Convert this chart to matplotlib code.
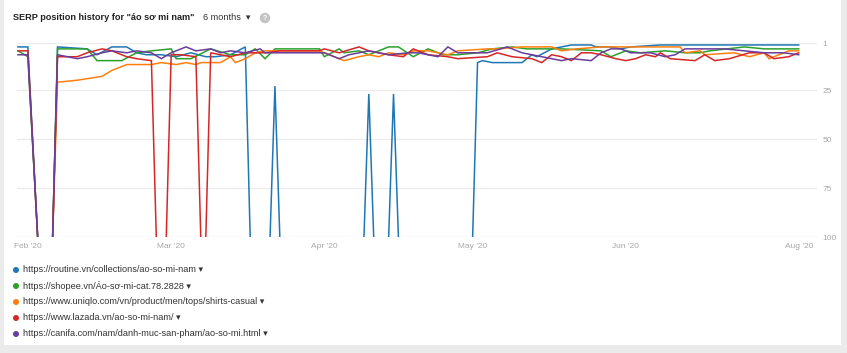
import matplotlib
matplotlib.use("Agg")
import matplotlib.pyplot as plt
from matplotlib.patches import Ellipse
import numpy as np
import pandas as pd

plt.rcParams["font.family"] = ["Liberation Sans", "DejaVu Sans"]

NR = 101  # ngoai top 100 (khong xep hang)
base = pd.Timestamp("2020-02-01")

# du lieu: ngay (tinh tu 01/02/2020) va vi tri SERP
blue_days = [-2, 0, 2, 5, 6, 12, 14, 17, 20, 22, 24, 27, 30, 33, 36, 38, 41, 44, 45, 49, 50, 51,
             68, 69, 70, 73, 74, 75, 90, 91, 92, 94, 100, 102, 103, 106, 110, 114, 115, 118, 120,
             122, 128, 133, 145, 156]
blue_pos = [3, 3, NR, NR, 3, 4, 7, 3, 3, 6, 7, 7, 8, 6, 8, 8, 7, 3, NR, NR, 23, NR,
            NR, 27, NR, NR, 27, NR, NR, 11, 10, 11, 11, 7, 8, 4, 2, 2, 3, 3, 4,
            3, 2, 2, 2, 2]

green_days = [-2, 0, 2, 5, 6, 12, 14, 19, 22, 25, 29, 30, 33, 37, 41, 44, 46, 48, 50, 59, 60, 63,
              64, 67, 69, 73, 75, 78, 81, 84, 87, 91, 94, 98, 101, 104, 108, 116, 118, 121, 124,
              129, 133, 136, 138, 145, 149, 156]
green_pos = [5, 8, NR, NR, 4, 4, 10, 10, 6, 5, 4, 9, 9, 4, 7, 7, 4, 9, 4, 4, 8, 4,
             6, 5, 7, 3, 3, 8, 4, 7, 7, 6, 4, 3, 4, 4, 4, 5, 8, 5, 6,
             5, 6, 6, 5, 3, 4, 4]

orange_days = [5, 6, 10, 15, 17, 20, 22, 25, 27, 30, 32, 34, 35, 37, 39, 41, 42, 44, 46, 48, 51,
               59, 60, 64, 67, 69, 71, 73, 76, 78, 81, 85, 87, 93, 95, 100, 104, 106, 108, 111,
               116, 132, 133, 136, 137, 143, 146, 149, 150, 154, 156]
orange_pos = [NR, 21, 20, 18, 15, 12, 12, 12, 11, 12, 11, 12, 11, 11, 11, 8, 11, 9, 6, 5, 5,
              5, 6, 10, 8, 7, 8, 6, 7, 5, 5, 7, 5, 4, 4, 3, 3, 3, 5, 4,
              3, 3, 6, 5, 7, 6, 8, 6, 9, 5, 5]

red_days = [-2, 0, 2, 5, 6, 10, 12, 15, 17, 20, 22, 25, 26, 28, 29, 31, 34, 35, 36, 37, 41, 44,
            48, 51, 59, 60, 63, 67, 69, 73, 76, 78, 81, 85, 87, 93, 95, 98, 102, 104, 106, 108,
            110, 112, 114, 116, 119, 121, 123, 125, 127, 128, 130, 135, 137, 139, 142, 146, 149,
            151, 154, 156]
red_pos = [5, 5, NR, NR, 8, 8, 6, 4, 5, 8, 9, 10, NR, NR, 7, 7, 8, NR, NR, 6, 8, 6,
           6, 5, 5, 4, 6, 3, 5, 7, 8, 4, 7, 8, 9, 8, 6, 8, 9, 11, 7, 8,
           10, 6, 6, 7, 9, 10, 9, 7, 8, 6, 9, 10, 7, 10, 9, 6, 6,
           9, 8, 6]

purple_days = [-2, 0, 2, 5, 6, 10, 12, 15, 17, 20, 22, 25, 27, 29, 32, 34, 37, 39, 41, 44, 47, 48,
               59, 60, 63, 65, 67, 69, 71, 73, 77, 79, 83, 85, 87, 90, 93, 97, 100, 102, 106, 108,
               110, 114, 116, 118, 120, 122, 126, 129, 131, 133, 137, 141, 145, 149, 153, 156]
purple_pos = [7, 7, NR, NR, 7, 9, 8, 6, 5, 6, 5, 6, 9, 6, 3, 5, 4, 6, 5, 6, 4, 6,
              6, 6, 9, 7, 6, 5, 6, 7, 6, 6, 8, 3, 6, 6, 6, 3, 6, 7, 9, 10,
              9, 10, 6, 4, 4, 6, 6, 8, 7, 4, 4, 4, 5, 6, 6, 7]

labels = [
    "https://routine.vn/collections/ao-so-mi-nam",
    "https://shopee.vn/Áo-sơ-mi-cat.78.2828",
    "https://www.uniqlo.com/vn/product/men/tops/shirts-casual",
    "https://www.lazada.vn/ao-so-mi-nam/",
    "https://canifa.com/nam/danh-muc-san-pham/ao-so-mi.html",
]
colors = ["#1f77b4", "#2ca02c", "#ff7f0e", "#d62728", "#6a3d9a"]

tick_days = [0, 29, 60, 90, 121, 156]
tick_labels = ["Feb '20", "Mar '20", "Apr '20", "May '20", "Jun '20", "Aug '20"]
rank_ticks = [1, 25, 50, 75, 100]

series = [(blue_days, blue_pos), (green_days, green_pos), (orange_days, orange_pos),
          (red_days, red_pos), (purple_days, purple_pos)]

W, H = 847, 353


def px(x, y):
    return x / W, 1 - y / H


def to_date(days):
    return base + pd.to_timedelta(np.array(days), unit="D")


fig = plt.figure(figsize=(W / 100, H / 100), dpi=100, facecolor="#ebebeb")
card = plt.Rectangle((4 / W, 1 - 345 / H), 837 / W, 345 / H, transform=fig.transFigure,
                     facecolor="white", edgecolor="none", zorder=-10)
fig.patches.append(card)

ax = fig.add_axes([17 / W, 1 - 237 / H, 800 / W, 194 / H])
ax.set_facecolor("none")
ax.set_zorder(1)

for (d, p), c in zip(series, colors):
    ax.plot(to_date(d), p, color=c, linewidth=1.1, solid_joinstyle="miter")

ax.set_ylim(100, 1)
ax.set_xlim(base + pd.Timedelta(days=-2.2), base + pd.Timedelta(days=159.7))
ax.set_yticks(rank_ticks)
ax.set_yticklabels([str(r) for r in rank_ticks])
ax.yaxis.tick_right()
ax.set_xticks(to_date(tick_days))
ax.set_xticklabels(tick_labels)
ax.tick_params(axis="both", length=0, labelsize=6, labelcolor="#a8a8a8")
ax.tick_params(axis="x", pad=4)
ax.tick_params(axis="y", pad=4)
ax.grid(axis="y", color="#ececec", linewidth=1)
ax.grid(axis="x", visible=False)
ax.set_axisbelow(True)
for s in ax.spines.values():
    s.set_visible(False)

# tieu de
fig.text(*px(13, 18), 'SERP position history for "áo sơ mi nam"', fontsize=6.6, fontweight="bold",
         color="#222222", va="center", ha="left")
fig.text(*px(203, 18), "6 months  ▾", fontsize=6.6, color="#333333", va="center", ha="left")
fig.text(*px(265, 18), "?", fontsize=5, color="white", fontweight="bold", va="center", ha="center",
         bbox=dict(boxstyle="circle,pad=0.25", fc="#c4c4c4", ec="none"))

# chu giai
leg_y = [270, 286, 302, 318, 334]
for lab, c, y in zip(labels, colors, leg_y):
    fig.patches.append(Ellipse(px(16, y), 6 / W, 6 / H, transform=fig.transFigure,
                               facecolor=c, edgecolor="none"))
    fig.text(*px(23, y), lab + " ▾", fontsize=6.6, color="#333333", va="center", ha="left")

fig.savefig("out.png", dpi=100, facecolor=fig.get_facecolor())
